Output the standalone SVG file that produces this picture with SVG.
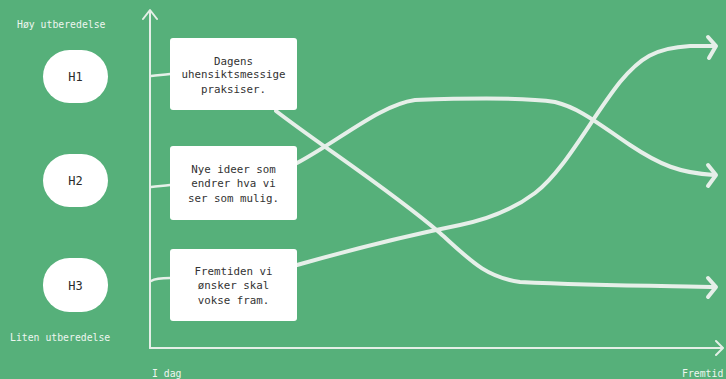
<svg xmlns="http://www.w3.org/2000/svg" width="726" height="379" viewBox="0 0 726 379">
<defs>
<style>
.lbl{font-family:"DejaVu Sans Mono","Liberation Mono",monospace;font-size:9.8px;fill:#eef6f0}
.h{fill:#ffffff}
.ht{font-family:"DejaVu Sans Mono","Liberation Mono",monospace;font-size:12px;fill:#2b2b2b;text-anchor:middle}
.box{fill:#ffffff}
.bt{font-family:"DejaVu Sans Mono","Liberation Mono",monospace;font-size:10.8px;fill:#333333;text-anchor:middle}
.axis{fill:none;stroke:#e4efe7;stroke-width:2;stroke-linecap:round;stroke-linejoin:round}
.chalk{fill:none;stroke:#e6efe9;stroke-width:4;stroke-linecap:round;stroke-linejoin:round}
.tick{fill:none;stroke:#e6f0e9;stroke-width:2.5;stroke-linecap:round}
</style>
</defs>
<rect width="726" height="379" fill="#56b07a"/>

<g id="connectors">
<path class="axis" d="M150 348 L150 11 M143 19 L150 10 L157 19"/>
<path class="axis" d="M150 348 L722 348 M716 341 L723 348 L716 355"/>
<path class="tick" d="M151 76 C158 75 163 75 170 74"/>
<path class="tick" d="M151 187 C158 186 163 186 170 185"/>
<path class="tick" d="M151 281 C156 278 162 278 170 278"/>
<path class="chalk" d="M276 111 C320 145 390 190 440 233 C470 260 485 277 520 282 C600 286 680 286 714 287"/>
<path class="chalk" d="M708 278 L716 287 L708 297"/>
<path class="chalk" d="M297 163 C340 140 380 105 415 100 C470 98 530 98 555 102 C580 108 600 125 630 145 C660 165 680 173 714 175"/>
<path class="chalk" d="M708 165 L716 175 L708 186"/>
<path class="chalk" d="M297 265 C350 250 410 235 460 225 C490 219 515 208 535 193 C565 170 590 120 620 82 C640 58 655 48 690 46 L714 46"/>
<path class="chalk" d="M708 37 L716 46 L709 58"/>
</g>

<text class="lbl" x="17" y="28">Høy utberedelse</text>
<text class="lbl" x="10" y="341">Liten utberedelse</text>
<text class="lbl" x="152" y="377">I dag</text>
<text class="lbl" x="682" y="377">Fremtid</text>

<g id="H1"><rect class="h" x="43" y="50" width="65" height="53" rx="26.5"/><text class="ht" x="75.5" y="81">H1</text></g>
<g id="H2"><rect class="h" x="43" y="154" width="65" height="53" rx="26.5"/><text class="ht" x="75.5" y="185">H2</text></g>
<g id="H3"><rect class="h" x="43" y="258" width="65" height="54" rx="26.5"/><text class="ht" x="75.5" y="290">H3</text></g>

<g id="box1"><rect class="box" x="170" y="38" width="127" height="72" rx="3"/>
<text class="bt" x="233.5" y="64.5">Dagens</text>
<text class="bt" x="233.5" y="78">uhensiktsmessige</text>
<text class="bt" x="233.5" y="92.5">praksiser.</text></g>
<g id="box2"><rect class="box" x="170" y="146" width="127" height="74" rx="3"/>
<text class="bt" x="233.5" y="173">Nye ideer som</text>
<text class="bt" x="233.5" y="187">endrer hva vi</text>
<text class="bt" x="233.5" y="202">ser som mulig.</text></g>
<g id="box3"><rect class="box" x="170" y="249" width="127" height="72" rx="3"/>
<text class="bt" x="233.5" y="274.5">Fremtiden vi</text>
<text class="bt" x="233.5" y="289">ønsker skal</text>
<text class="bt" x="233.5" y="304">vokse fram.</text></g>
</svg>
